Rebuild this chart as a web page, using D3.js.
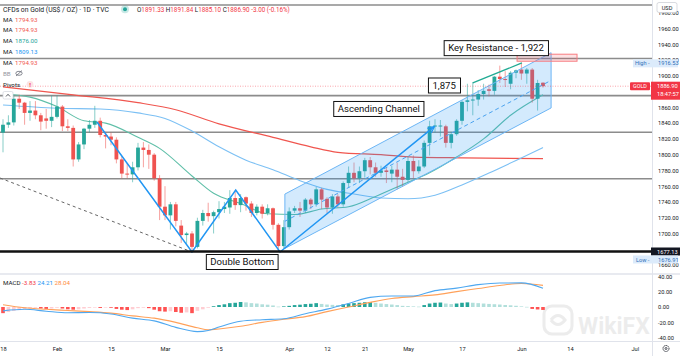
<!DOCTYPE html>
<html><head><meta charset="utf-8">
<script src="https://cdn.jsdelivr.net/npm/d3@7"></script>
<style>
body{margin:0;background:#fff;}
svg{display:block;font-family:Roboto,"Open Sans",Arial,sans-serif;}
</style>
</head><body>
<svg id="c" width="680" height="356"></svg>
<script>
// ---------------- DATA (daily candles, 18 Jan – 7 Jun 2021) ----------------
const open  = [1828,1838,1841,1871,1866,1853,1856,1850,1846,1843,1848,1861,1836,1834,1794,1813,1833,1838,1843,1825,
               1823,1819,1794,1776,1775,1784,1809,1806,1800,1770,1734,1723,1737,1710,1698,1700,1683,1716,1726,1722,
               1727,1731,1733,1745,1736,1746,1738,1726,1734,1726,1732,1711,1684,1708,1729,1732,1729,1743,1737,1756,
               1744,1733,1747,1737,1764,1777,1770,1779,1793,1784,1777,1780,1776,1781,1772,1768,1792,1779,1785,1815,
               1836,1837,1836,1815,1826,1843,1867,1869,1870,1877,1883,1881,1899,1896,1890,1904,1908,1903,1908,1871,1891.33];
const high  = [1845,1850,1875,1876,1867,1868,1868,1853,1858,1875,1875,1863,1845,1837,1816,1834,1844,1862,1847,1829,
               1828,1822,1798,1789,1791,1815,1816,1813,1802,1774,1760,1740,1740,1717,1702,1703,1720,1730,1739,1729,
               1741,1740,1755,1755,1750,1747,1741,1737,1737,1737,1733,1713,1717,1733,1735,1740,1745,1745,1759,1758,
               1746,1750,1750,1766,1785,1790,1785,1796,1797,1790,1786,1784,1786,1790,1782,1798,1799,1793,1818,1843,
               1845,1844,1838,1829,1845,1869,1890,1892,1882,1890,1889,1900,1913,1906,1906,1908,1916.53,1910,1910,1895,1891.84];
const low   = [1803,1834,1837,1858,1838,1843,1845,1831,1833,1835,1846,1830,1830,1785,1791,1807,1828,1834,1822,1808,
               1812,1789,1770,1770,1765,1780,1784,1782,1767,1717,1717,1705,1709,1688,1687,1676.91,1681,1710,1715,1700,
               1719,1726,1725,1730,1727,1729,1721,1723,1719,1723,1705,1677.13,1681,1705,1726,1721,1726,1731,1734,1731,
               1726,1725,1733,1734,1758,1765,1764,1771,1775,1772,1772,1764,1765,1756,1759,1765,1770,1776,1783,1799,
               1828,1823,1809,1808,1824,1838,1855,1850,1862,1870,1874,1876,1891,1886,1883,1897,1895,1890,1866,1856,1885.10];
const close = [1838,1841,1871,1866,1853,1856,1850,1842,1843,1848,1861,1836,1834,1794,1813,1833,1838,1843,1825,1823,
               1819,1794,1776,1775,1784,1809,1806,1800,1770,1734,1723,1737,1716,1698,1700,1683,1716,1726,1722,1727,
               1731,1734,1745,1736,1745,1738,1726,1734,1725,1732,1711,1684,1708,1728,1732,1729,1743,1737,1756,1743,
               1733,1747,1737,1764,1777,1770,1779,1793,1784,1777,1780,1778,1781,1772,1768,1792,1779,1785,1815,1836,
               1837,1837,1815,1826,1843,1867,1869,1870,1877,1881,1881,1899,1896,1895,1904,1907,1903,1908,1871,1891,1886.90];

// moving averages (candle index -> value)
const ma20Idx = [0,5,10,15,19,25,29,35,39,44,49,54,59,64,69,74,79,84,89,94,100];
const ma20    = [1877,1873,1861,1843,1840,1822,1808,1773,1751,1738,1725,1724,1731,1734,1747,1762,1777,1797,1820,1850,1876.00];
const ma50Idx = [0,10,18,25,30,35,40,45,50,55,60,65,70,75,80,85,90,95,100];
const ma50    = [1863,1859,1858,1853,1846,1830,1810,1793,1781,1767,1756,1750,1745,1744,1748.5,1761.6,1776.7,1792.7,1809.13];
const ma200Idx= [0,13,25,32,40,50,57,62,70,76,85,100];
const ma200   = [1886,1876,1866,1857,1839,1822,1810,1803,1800,1797,1796,1794.93];

// MACD (12,26,9)
const macdIdx = [0,4,8,12,16,20,24,28,32,36,38,40,44,48,52,56,60,64,68,72,76,80,84,88,92,96,100];
const macdLine= [-5,-3,-5.5,-7.5,-7.2,-9,-14.5,-18,-26.5,-32,-30.5,-26,-18.5,-16.5,-15.2,-8.7,-2.8,4.5,12.5,14.2,14.3,21.3,24.5,29,31.2,31.3,24.21];
const signal  = [3,-1,-3,-4.5,-6,-8,-11.5,-14.5,-20,-27,-29.5,-28.5,-25,-20,-16,-12.5,-6,0,6,11,13.5,15.8,20,24,28,30.5,28.04];
const hist    = [-8,-6.5,-5,-4,-3,-2,-1,-2,-2.5,-2,-1,-2,-3,-3.5,-3,-2,-1.2,-0.8,-1.2,-0.8,
                 -1,-2.5,-3.5,-4,-3,-1.5,-1,-1.5,-3.5,-5.5,-6,-5.5,-6.5,-7.5,-7,-8,-5,-3,-1,1,
                 2.5,3.5,5,5.5,6.5,6,5,4.5,3.5,3,2,0.5,0.8,1.5,2.5,3,3.8,4.2,5,4,
                 3.2,2.8,2.5,3.5,4.5,5,5.5,6.2,6.5,5.5,4.5,3.8,3.2,2.5,1.5,1.2,0.8,0.5,2.5,4.5,
                 5.5,5.8,4.5,3.8,4.5,5.5,6,5.5,5,4.5,4,3.6,3.2,2.6,2.2,1.6,0.8,0.2,-2.5,-3.2,-3.83];

// drawings
const levels     = [1990, 1922, 1875, 1828.5, 1769.5];
const supportLvl = 1677.13;
const lastPrice  = 1886.90;
const chanIdx    = [52.2, 101.5];
const chanUpper  = [1750.0, 1929.4];
const chanLower  = [1681.0, 1859.3];
const chanMid    = [1715.5, 1894.3];
const zzIdx      = [17.4, 35, 43.1, 51.3, 79.8];
const zzPrice    = [1841.5, 1676.5, 1755.2, 1676.5, 1835.2];
const tdIdx      = [-0.56, 35];
const tdPrice    = [1770.4, 1676.5];
const grIdx      = [87, 96.1];
const grPrice    = [1891, 1916.5];
const rzIdx      = [95.2, 106.3];
const rzPrice    = [1918.6, 1927.5];
const notes      = ["Key Resistance - 1,922", "1,875", "Ascending Channel", "Double Bottom"];
const noteIdx    = [91.3, 81.7, 69.6, 44.3];
const notePrice  = [1935.2, 1887.8, 1858, 1663.8];

// axes (1680 and 1880 sit under the price tags and are not shown)
const priceTicks = [1660,1700,1720,1740,1760,1780,1800,1820,1840,1860,1900,1920,1940,1960,1980];
const macdTicks  = [-40,-20,0,20,40];
const timeIdx    = [0,10,20,30,40,53,60,67,75,85,96,105,117];
const timeLabels = ["18","Feb","15","Mar","15","Apr","12","21","May","17","Jun","14","Jul"];
const maLegend   = ["1794.93","1794.93","1876.00","1809.13","1794.93"];
const macdLegend = ["-3.83","24.21","28.04"];

// ---------------- LAYOUT ----------------
const svg = d3.select('#c');
const PR = 652, PB = 273, MT = 275, MB = 341;
const UP = '#26a69a', DN = '#ef5350';
const AX = 5.7;
const x  = d3.scaleLinear().domain([0,100]).range([3,543]);
const y  = d3.scaleLinear().domain([1660,1960]).range([265,28.6]);
const ym = d3.scaleLinear().domain([-40,40]).range([337.8,276.2]);
const defs = svg.append('defs');
defs.append('clipPath').attr('id','pc').append('rect').attr('x',0).attr('y',0).attr('width',PR).attr('height',PB);
defs.append('clipPath').attr('id','mc').append('rect').attr('x',0).attr('y',MT).attr('width',PR).attr('height',MB-MT);
defs.append('clipPath').attr('id','mac').append('rect').attr('x',PR).attr('y',MT).attr('width',680-PR).attr('height',MB-MT);
defs.append('marker').attr('id','arr').attr('viewBox','0 0 10 10').attr('refX',8).attr('refY',5)
  .attr('markerWidth',5).attr('markerHeight',5).attr('orient','auto')
  .append('path').attr('d','M0,1 L9,5 L0,9').attr('fill','none').attr('stroke','#2196f3').attr('stroke-width',1.6);

svg.append('rect').attr('width',680).attr('height',356).attr('fill','#fff');

// watermark
const wm = svg.append('g').attr('opacity',0.07);
wm.append('rect').attr('x',544).attr('y',306).attr('width',28).attr('height',28).attr('rx',8)
  .attr('fill','none').attr('stroke','#000').attr('stroke-width',3);
wm.append('path').attr('d','M551,320 q7,-9 14,0 q-7,9 -14,0').attr('fill','none').attr('stroke','#000').attr('stroke-width',3);
wm.append('text').attr('x',578).attr('y',334).attr('font-size',23).attr('font-weight','bold').attr('fill','#000').text('WikiFX');

const P = svg.append('g').attr('clip-path','url(#pc)');

// horizontal levels
P.selectAll('.lvl').data(levels).join('line')
  .attr('x1',0).attr('x2',PR).attr('y1',d=>y(d)).attr('y2',d=>y(d))
  .attr('stroke','#8c8c8c').attr('stroke-width',1.6);

// moving averages
const mline = (ix, vals) => d3.line().curve(d3.curveMonotoneX).x((d,i)=>x(ix[i])).y(d=>y(d))(vals);
P.append('path').attr('d',mline(ma200Idx,ma200)).attr('fill','none').attr('stroke','#f0564f').attr('stroke-width',1.2);
P.append('path').attr('d',mline(ma50Idx,ma50)).attr('fill','none').attr('stroke','#7cc0f4').attr('stroke-width',1.1);
P.append('path').attr('d',mline(ma20Idx,ma20)).attr('fill','none').attr('stroke','#5fbfa8').attr('stroke-width',1.1);

// dashed trend line
P.append('line').attr('x1',x(tdIdx[0])).attr('y1',y(tdPrice[0])).attr('x2',x(tdIdx[1])).attr('y2',y(tdPrice[1]))
  .attr('stroke','#666').attr('stroke-width',1).attr('stroke-dasharray','3,3');

// candles
const ids = d3.range(close.length);
const cg = P.append('g');
cg.selectAll('.wick').data(ids).join('line')
  .attr('x1',i=>x(i)).attr('x2',i=>x(i)).attr('y1',i=>y(high[i])).attr('y2',i=>y(low[i]))
  .attr('stroke',i=>close[i]>=open[i]?UP:DN).attr('stroke-opacity',0.55).attr('stroke-width',1);
cg.selectAll('.body').data(ids).join('rect')
  .attr('x',i=>x(i)-1.9).attr('width',3.8)
  .attr('y',i=>y(Math.max(open[i],close[i])))
  .attr('height',i=>Math.max(1,Math.abs(y(open[i])-y(close[i]))))
  .attr('fill',i=>close[i]>=open[i]?UP:DN);

// ascending channel
const cpts = [[chanIdx[0],chanUpper[0]],[chanIdx[1],chanUpper[1]],[chanIdx[1],chanLower[1]],[chanIdx[0],chanLower[0]]];
P.append('polygon').attr('points',cpts.map(p=>[x(p[0]),y(p[1])].join(',')).join(' '))
  .attr('fill','#2196f3').attr('fill-opacity',0.2).attr('stroke','#6db6f5').attr('stroke-width',1);
P.append('line').attr('x1',x(chanIdx[0])).attr('y1',y(chanMid[0])).attr('x2',x(chanIdx[1])).attr('y2',y(chanMid[1]))
  .attr('stroke','#4aa3f0').attr('stroke-width',1).attr('stroke-dasharray','4,3');

// zigzag
P.append('path').attr('d',d3.line().x((d,i)=>x(zzIdx[i])).y(d=>y(d))(zzPrice))
  .attr('fill','none').attr('stroke','#2196f3').attr('stroke-width',1.5).attr('marker-end','url(#arr)');

// resistance zone + green line
P.append('rect').attr('x',x(rzIdx[0])).attr('width',x(rzIdx[1])-x(rzIdx[0]))
  .attr('y',y(rzPrice[1])).attr('height',y(rzPrice[0])-y(rzPrice[1]))
  .attr('fill','#f23645').attr('fill-opacity',0.15).attr('stroke','#f77c80').attr('stroke-width',1);
P.append('line').attr('x1',x(grIdx[0])).attr('y1',y(grPrice[0])).attr('x2',x(grIdx[1])).attr('y2',y(grPrice[1]))
  .attr('stroke','#22ab94').attr('stroke-width',1.3);

// last price line & support
P.append('line').attr('x1',0).attr('x2',PR).attr('y1',y(lastPrice)).attr('y2',y(lastPrice))
  .attr('stroke','#f23645').attr('stroke-opacity',0.45).attr('stroke-width',1).attr('stroke-dasharray','1,1.5');
P.append('line').attr('x1',0).attr('x2',PR).attr('y1',y(supportLvl)).attr('y2',y(supportLvl))
  .attr('stroke','#111').attr('stroke-width',2.6);

// annotations
notes.forEach((t,i)=>{
  const g = svg.append('g');
  const tx = g.append('text').attr('x',x(noteIdx[i])).attr('y',y(notePrice[i])+3.3)
    .attr('text-anchor','middle').attr('font-size',9.6).attr('fill','#111').text(t);
  const bb = tx.node().getBBox();
  g.insert('rect','text').attr('x',bb.x-4).attr('y',y(notePrice[i])-7.5).attr('width',bb.width+8).attr('height',15)
    .attr('fill','#fff').attr('stroke','#111').attr('stroke-width',1);
});

// ---------------- legend ----------------
svg.append('text').attr('x',3).attr('y',11.5).attr('font-size',6.8).attr('fill','#131722')
  .text('CFDs on Gold (US$ / OZ) · 1D · TVC');
svg.append('circle').attr('cx',125).attr('cy',9.3).attr('r',4).attr('fill','#26a69a').attr('fill-opacity',0.25);
svg.append('circle').attr('cx',125).attr('cy',9.3).attr('r',2).attr('fill','#26a69a');
const ohlc = svg.append('text').attr('x',137).attr('y',11.5).attr('font-size',6.3).attr('fill','#f23645');
[['O','1891.33'],['H','1891.84'],['L','1885.10'],['C','1886.90']].forEach(p=>{
  ohlc.append('tspan').attr('fill','#131722').text(p[0]);
  ohlc.append('tspan').text(p[1]+' ');
});
ohlc.append('tspan').text('-3.00 (-0.16%)');
const maCol = ['#f0564f','#f0564f','#26a69a','#2196f3','#f0564f'];
maLegend.forEach((v,i)=>{
  const t = svg.append('text').attr('x',3).attr('y',21.5+i*10.8).attr('font-size',6.2);
  t.append('tspan').attr('fill','#131722').text('MA');
  t.append('tspan').attr('x',15).attr('fill',maCol[i]).text(v);
});
svg.append('text').attr('x',3).attr('y',75.5).attr('font-size',6.2).attr('fill','#9598a1').text('BB');
svg.append('ellipse').attr('cx',19).attr('cy',73.3).attr('rx',3.2).attr('ry',2).attr('fill','none').attr('stroke','#6a6d78').attr('stroke-width',0.8);
svg.append('line').attr('x1',16).attr('y1',76).attr('x2',22).attr('y2',70.5).attr('stroke','#6a6d78').attr('stroke-width',0.8);
svg.append('text').attr('x',3).attr('y',86.5).attr('font-size',6.2).attr('fill','#131722').text('Pivots');
svg.append('circle').attr('cx',30).attr('cy',84.3).attr('r',3.4).attr('fill','#fde3e4');
svg.append('text').attr('x',30).attr('y',86.6).attr('text-anchor','middle').attr('font-size',6).attr('font-weight','bold').attr('fill','#f23645').text('!');
svg.append('rect').attr('x',3).attr('y',91.5).attr('width',10).attr('height',7.5).attr('rx',1.5)
  .attr('fill','#fff').attr('stroke','#d1d4dc').attr('stroke-width',0.7);
svg.append('path').attr('d','M6,96.5 L8,94.3 L10,96.5').attr('fill','none').attr('stroke','#131722').attr('stroke-width',0.7);

// ---------------- right price axis ----------------
svg.append('rect').attr('x',PR).attr('y',0).attr('width',680-PR).attr('height',MT-1).attr('fill','#fff');
svg.append('line').attr('x1',PR+0.5).attr('x2',PR+0.5).attr('y1',0).attr('y2',356).attr('stroke','#e0e3eb');
const ya = svg.append('g').attr('transform',`translate(${PR},0)`)
  .call(d3.axisRight(y).tickValues(priceTicks).tickSize(0).tickPadding(6).tickFormat(d=>d.toFixed(2)));
ya.select('.domain').remove();
ya.selectAll('text').attr('font-size',AX).attr('fill','#131722').attr('font-family','Roboto, sans-serif');

// special price labels
svg.append('rect').attr('x',657).attr('y',2.5).attr('width',20).attr('height',10).attr('rx',2)
  .attr('fill','#fff').attr('stroke','#c8cbd3').attr('stroke-width',0.7);
svg.append('text').attr('x',667).attr('y',9.6).attr('text-anchor','middle').attr('font-size',5.6).attr('fill','#131722').text('USD');
const hiY = y(high[96]);
svg.append('rect').attr('x',633).attr('y',hiY-3.5).attr('width',45).attr('height',8).attr('fill','#dcebfb');
svg.append('text').attr('x',635).attr('y',hiY+2.5).attr('font-size',5.6).attr('fill','#2f6fb8').text('High  -');
svg.append('text').attr('x',658).attr('y',hiY+2.5).attr('font-size',AX).attr('fill','#2f6fb8').text(high[96].toFixed(2));
const lpY = y(lastPrice);
svg.append('rect').attr('x',630).attr('y',lpY-4).attr('width',20).attr('height',8).attr('rx',1).attr('fill','#f23645');
svg.append('text').attr('x',640).attr('y',lpY+2).attr('text-anchor','middle').attr('font-size',5.4).attr('fill','#fff').text('GOLD');
svg.append('rect').attr('x',651).attr('y',lpY-4.5).attr('width',29).attr('height',18).attr('fill','#f23645');
svg.append('text').attr('x',657).attr('y',lpY+2).attr('font-size',AX).attr('fill','#fff').text(lastPrice.toFixed(2));
svg.append('text').attr('x',657).attr('y',lpY+10.2).attr('font-size',AX).attr('fill','#fff').text('18:47:57');
const sY = y(supportLvl);
svg.append('rect').attr('x',651).attr('y',sY-4).attr('width',29).attr('height',8).attr('fill','#131722');
svg.append('text').attr('x',657).attr('y',sY+2).attr('font-size',AX).attr('fill','#fff').text(supportLvl.toFixed(2));
const loY = sY + 8;
svg.append('rect').attr('x',633).attr('y',loY-4).attr('width',45).attr('height',8).attr('fill','#dcebfb');
svg.append('text').attr('x',636).attr('y',loY+2).attr('font-size',5.6).attr('fill','#2f6fb8').text('Low  -');
svg.append('text').attr('x',658).attr('y',loY+2).attr('font-size',AX).attr('fill','#2f6fb8').text(low[35].toFixed(2));

// ---------------- MACD pane ----------------
svg.append('line').attr('x1',0).attr('x2',680).attr('y1',MT-1).attr('y2',MT-1).attr('stroke','#e0e3eb').attr('stroke-width',1.5);
const M = svg.append('g').attr('clip-path','url(#mc)');
M.selectAll('.h').data(ids).join('rect')
  .attr('x',i=>x(i)-1.8).attr('width',3.6)
  .attr('y',i=>Math.min(ym(hist[i]),ym(0))).attr('height',i=>Math.max(0.6,Math.abs(ym(hist[i])-ym(0))))
  .attr('fill',(i)=>{
    const v = hist[i], p = i>0?hist[i-1]:v;
    if (v>=0) return v>=p ? '#26a69a' : '#b2dfdb';
    return v<=p ? '#ff5252' : '#ffcdd2';
  });
const lineM = (vals)=>d3.line().curve(d3.curveMonotoneX).x((d,i)=>x(macdIdx[i])).y(d=>ym(d))(vals);
M.append('path').attr('d',lineM(signal)).attr('fill','none').attr('stroke','#ffa15a').attr('stroke-width',1.1);
M.append('path').attr('d',lineM(macdLine)).attr('fill','none').attr('stroke','#4fa8f0').attr('stroke-width',1.1);
const ml = svg.append('text').attr('x',3).attr('y',285).attr('font-size',6.2);
ml.append('tspan').attr('fill','#131722').text('MACD ');
const mcols = ['#f23645','#2196f3','#ff8a3d'];
macdLegend.forEach((v,i)=>ml.append('tspan').attr('fill',mcols[i]).text(' '+v));
const ma = svg.append('g').attr('clip-path','url(#mac)').append('g').attr('transform',`translate(${PR},0)`)
  .call(d3.axisRight(ym).tickValues(macdTicks).tickSize(0).tickPadding(6).tickFormat(d=>d.toFixed(2)));
ma.select('.domain').remove();
ma.selectAll('text').attr('font-size',AX).attr('fill','#131722').attr('font-family','Roboto, sans-serif');

// ---------------- time axis ----------------
svg.append('line').attr('x1',0).attr('x2',680).attr('y1',MB+0.5).attr('y2',MB+0.5).attr('stroke','#e0e3eb');
const xa = svg.append('g').attr('transform',`translate(0,${MB+3})`)
  .call(d3.axisBottom(x).tickValues(timeIdx).tickSize(0).tickPadding(3).tickFormat((d,i)=>timeLabels[i]));
xa.select('.domain').remove();
xa.selectAll('text').attr('font-size',AX).attr('fill','#131722').attr('font-family','Roboto, sans-serif');
svg.append('rect').attr('x',PR+1).attr('y',MB+1).attr('width',680-PR).attr('height',356-MB).attr('fill','#fff');
svg.append('circle').attr('cx',666).attr('cy',348.5).attr('r',3).attr('fill','none').attr('stroke','#131722').attr('stroke-width',1).attr('stroke-dasharray','1.2,0.8');
svg.append('circle').attr('cx',666).attr('cy',348.5).attr('r',1).attr('fill','none').attr('stroke','#131722').attr('stroke-width',0.7);
</script>
</body></html>
